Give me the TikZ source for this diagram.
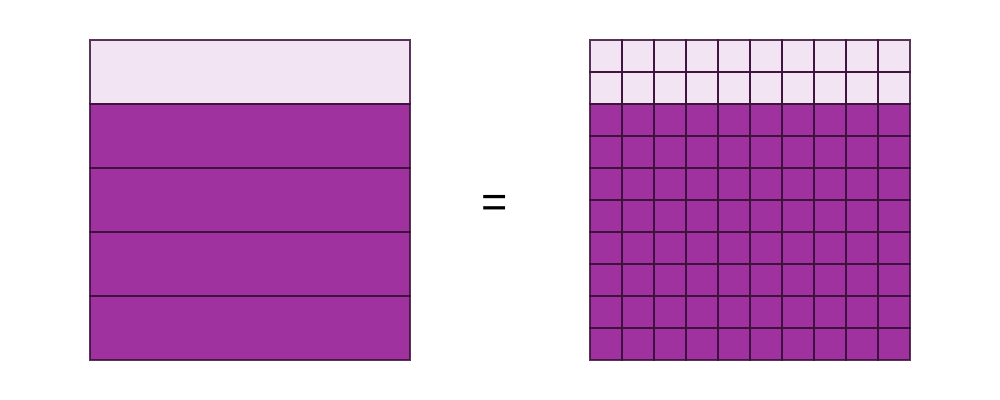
\documentclass[tikz,border=0pt]{standalone}
\usepackage{fontspec}
\setmainfont{Liberation Sans}
\usepackage{xcolor}
\usepackage{tikz}
\usetikzlibrary{calc}

\definecolor{fracpurple}{HTML}{A0329F}
\definecolor{fraclight}{HTML}{F2E4F2}
\definecolor{fracline}{HTML}{3C123C}

\tikzset{
	cellline/.style = {draw = fracline, draw opacity = 0.85, line width = 0.75pt}
}

\begin{document}
\begin{tikzpicture}[x = 1cm, y = 1cm]
					\def\side{8};
					\def\cell{0.8};
					\useasboundingbox (0,0) rectangle (25,10);

					% left square: fifths
					\begin{scope}[shift = {(2.25,1)}]
						\fill [fracpurple] (0,0) rectangle (\side,6.4);
						\fill [fraclight] (0,6.4) rectangle (\side,\side);
						\foreach \r in {0,...,4} {
							\draw [cellline] (0,{\r*1.6}) rectangle (\side,{(\r+1)*1.6});
						}
					\end{scope}

					% equals sign
					\node [font = \fontsize{32}{34}\selectfont, inner sep = 0pt] (eq) at (12.37,4.83) {=};

					% right square: hundredths
					\begin{scope}[shift = {(14.75,1)}]
						\fill [fracpurple] (0,0) rectangle (\side,6.4);
						\fill [fraclight] (0,6.4) rectangle (\side,\side);
						\foreach \i in {0,...,9} {
							\foreach \j in {0,...,9} {
								\draw [cellline] ({\i*\cell},{\j*\cell}) rectangle ({(\i+1)*\cell},{(\j+1)*\cell});
							}
						}
					\end{scope}
				\end{tikzpicture}
\end{document}
